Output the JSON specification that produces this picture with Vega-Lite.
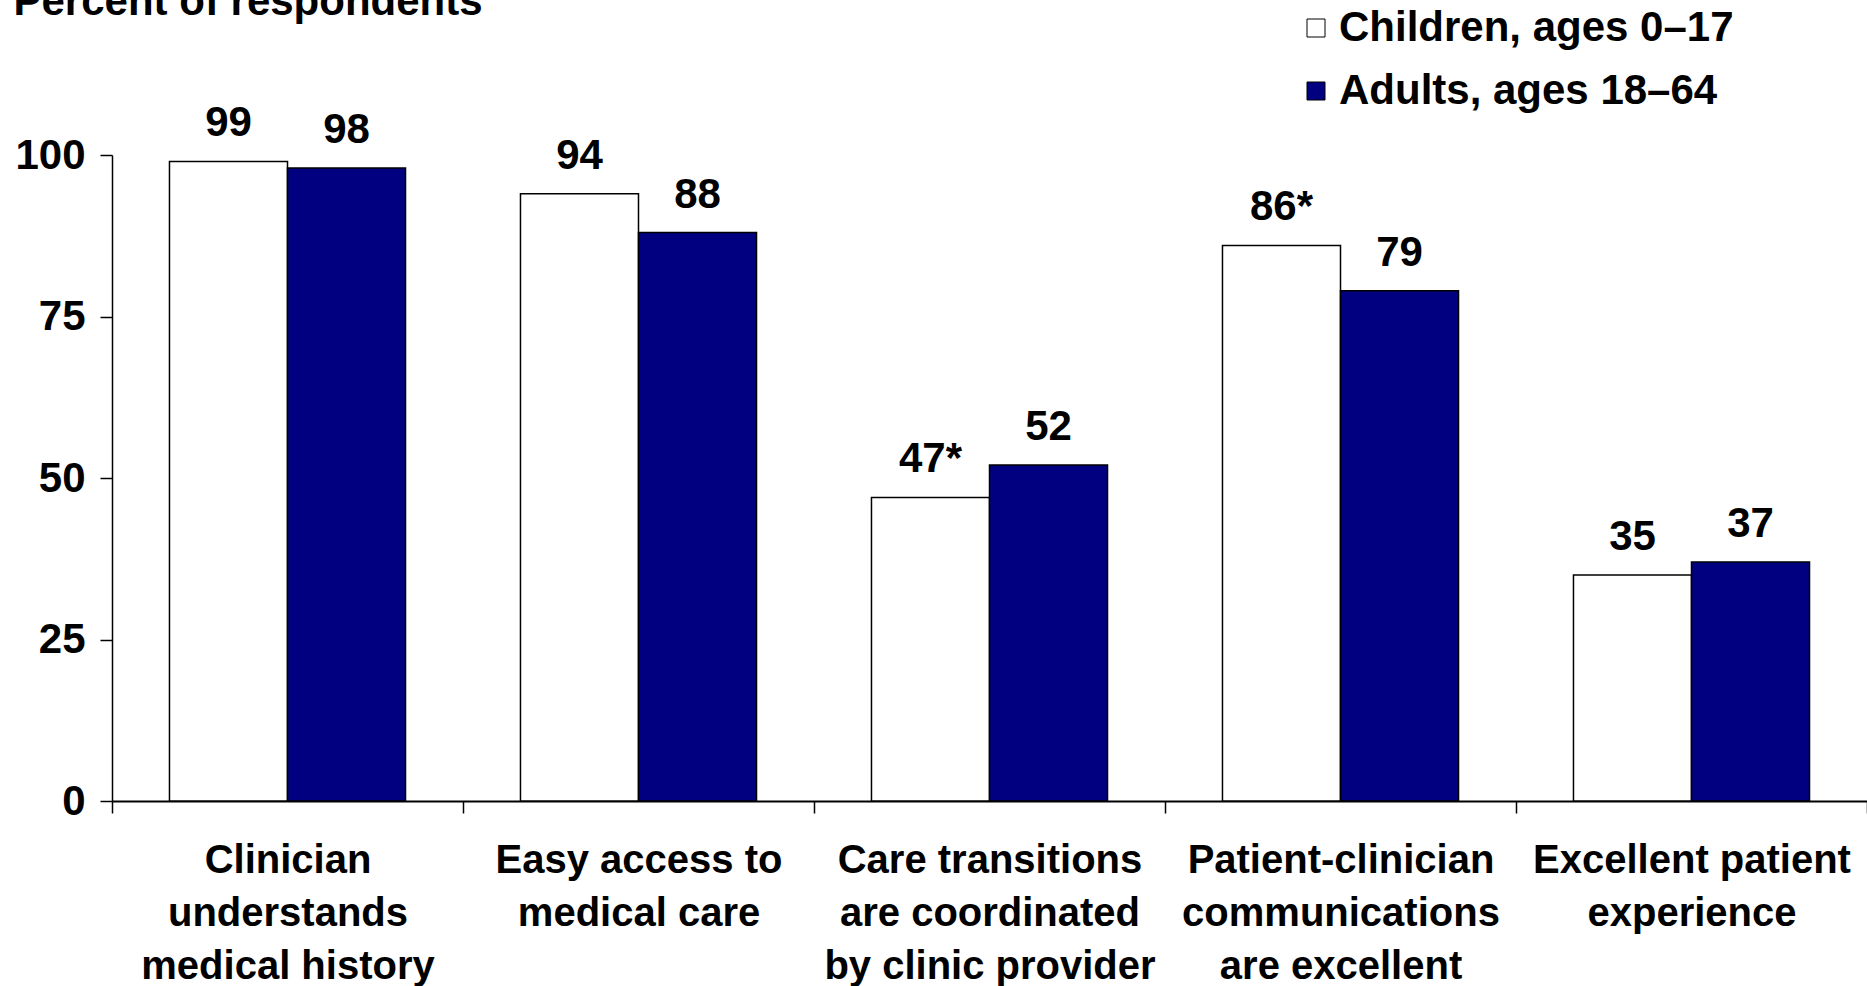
{
  "$schema": "https://vega.github.io/schema/vega-lite/v6.json",
  "width": 1755,
  "height": 646,
  "autosize": {"type": "none"},
  "padding": {"left": 112, "top": 155, "right": 0, "bottom": 185},
  "background": "white",
  "config": {"view": {"stroke": null}, "font": "Liberation Sans"},
  "data": {
    "values": [
      {"category": "Clinician|understands|medical history", "group": "Children, ages 0–17", "value": 99, "label": "99"},
      {"category": "Clinician|understands|medical history", "group": "Adults, ages 18–64", "value": 98, "label": "98"},
      {"category": "Easy access to|medical care", "group": "Children, ages 0–17", "value": 94, "label": "94"},
      {"category": "Easy access to|medical care", "group": "Adults, ages 18–64", "value": 88, "label": "88"},
      {"category": "Care transitions|are coordinated|by clinic provider", "group": "Children, ages 0–17", "value": 47, "label": "47*"},
      {"category": "Care transitions|are coordinated|by clinic provider", "group": "Adults, ages 18–64", "value": 52, "label": "52"},
      {"category": "Patient-clinician|communications|are excellent", "group": "Children, ages 0–17", "value": 86, "label": "86*"},
      {"category": "Patient-clinician|communications|are excellent", "group": "Adults, ages 18–64", "value": 79, "label": "79"},
      {"category": "Excellent patient|experience", "group": "Children, ages 0–17", "value": 35, "label": "35"},
      {"category": "Excellent patient|experience", "group": "Adults, ages 18–64", "value": 37, "label": "37"}
    ]
  },
  "encoding": {
    "x": {
      "field": "category",
      "type": "nominal",
      "sort": null,
      "scale": {"paddingInner": 0, "paddingOuter": 0},
      "axis": {
        "title": null,
        "labelExpr": "split(datum.label, '|')",
        "labelAngle": 0,
        "labelFontSize": 40,
        "labelFontWeight": "bold",
        "labelColor": "black",
        "labelLineHeight": 53,
        "labelPadding": 27,
        "labelBaseline": "top",
        "labelLimit": 500,
        "labelOverlap": false,
        "tickBand": "extent",
        "tickSize": 12,
        "tickColor": "black",
        "tickWidth": 1.5,
        "domainColor": "black",
        "domainWidth": 2
      }
    },
    "xOffset": {
      "field": "group",
      "type": "nominal",
      "sort": ["Children, ages 0–17", "Adults, ages 18–64"],
      "scale": {"paddingInner": 0, "paddingOuter": 0.487}
    },
    "y": {
      "field": "value",
      "type": "quantitative",
      "scale": {"domain": [0, 100], "nice": false},
      "axis": {
        "values": [0, 25, 50, 75, 100],
        "grid": false,
        "title": "Percent of respondents",
        "titleAngle": 0,
        "titleAlign": "left",
        "titleBaseline": "alphabetic",
        "titleX": -99,
        "titleY": -141,
        "titleFontSize": 42,
        "titleFontWeight": "bold",
        "titleColor": "black",
        "labelFontSize": 42,
        "labelFontWeight": "bold",
        "labelColor": "black",
        "labelPadding": 15,
        "tickSize": 12,
        "tickColor": "black",
        "tickWidth": 1.5,
        "domainColor": "black",
        "domainWidth": 1.5
      }
    }
  },
  "layer": [
    {
      "mark": {"type": "bar", "stroke": "black", "strokeWidth": 1.5},
      "encoding": {
        "fill": {
          "field": "group",
          "type": "nominal",
          "scale": {
            "domain": ["Children, ages 0–17", "Adults, ages 18–64"],
            "range": ["#ffffff", "#000080"]
          },
          "legend": {
            "orient": "none",
            "legendX": 1183,
            "legendY": -148,
            "title": null,
            "symbolType": "square",
            "symbolSize": 324,
            "symbolStrokeColor": "black",
            "symbolStrokeWidth": 1,
            "labelFont": "Liberation Sans",
            "labelFontSize": 42,
            "labelFontWeight": "bold",
            "labelColor": "black",
            "labelOffset": 2,
            "labelLimit": 600,
            "rowPadding": 21
          }
        }
      }
    },
    {
      "mark": {"type": "text", "dy": -25, "baseline": "alphabetic", "fontSize": 42, "fontWeight": "bold", "color": "black"},
      "encoding": {"text": {"field": "label"}}
    }
  ]
}
